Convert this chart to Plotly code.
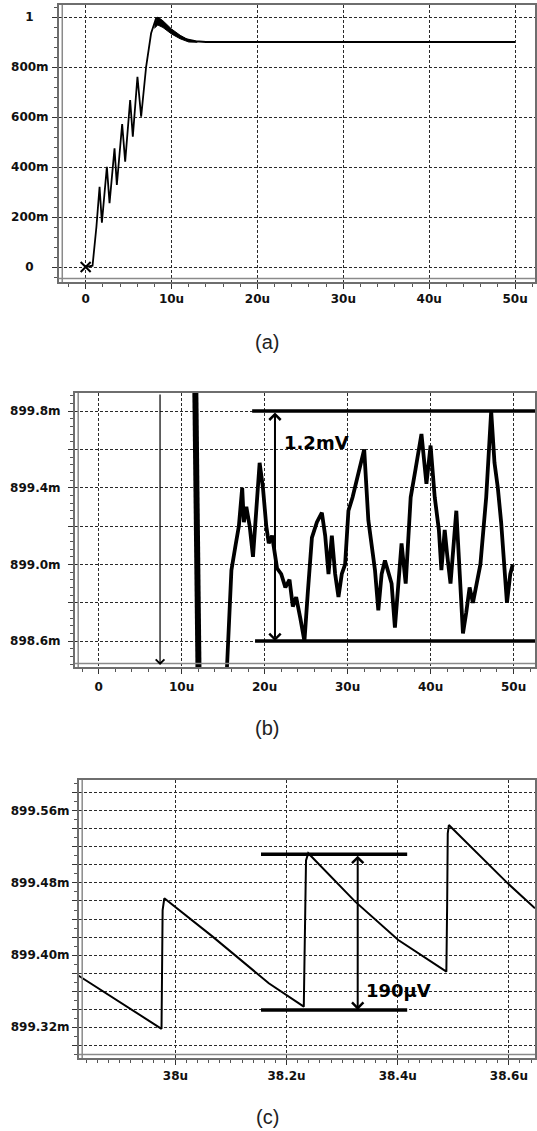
import plotly.graph_objects as go

# ---------------- data: panel (a) ----------------
a_t = [0, 0.8, 1.25, 1.62, 1.89, 2.47, 2.78, 3.36, 3.63, 4.25, 4.6, 5.18, 5.49,
       6.03, 6.46, 7.04, 7.62, 8.2, 8.6, 8.97, 9.5, 10.13, 11.0, 11.68, 12.8, 14.0, 50.0]
a_v = [0, 0.005, 0.16, 0.321, 0.177, 0.401, 0.255, 0.475, 0.328, 0.572, 0.421, 0.668, 0.521,
       0.761, 0.601, 0.801, 0.935, 0.995, 0.99, 0.975, 0.958, 0.941, 0.922, 0.911, 0.903, 0.9, 0.9]
a_ring_t = [8.0, 8.4, 9.0, 10.0, 11.0, 12.0, 13.0]
a_ring_hi = [0.97, 1.0, 0.985, 0.952, 0.927, 0.908, 0.902]
a_ring_lo = [0.955, 0.968, 0.958, 0.932, 0.913, 0.9, 0.899]
a_xticks = [0, 10, 20, 30, 40, 50]
a_xlabels = ["0", "10u", "20u", "30u", "40u", "50u"]
a_yticks = [0, 0.2, 0.4, 0.6, 0.8, 1.0]
# short labels padded so they sit centred like the reference
PAD = "\u2007\u00a0\u2009"
a_ylabels = ["0" + PAD, "200m", "400m", "600m", "800m", "1" + PAD]

# ---------------- data: panel (b) (mV) ----------------
b_drop_t = [11.55, 12.15]
b_drop_v = [900.3, 898.0]
b_t = [15.4, 15.7, 16.0, 16.5, 16.9, 17.3, 17.5, 17.8, 18.2, 18.6, 19.0, 19.4, 19.8, 20.2,
       20.5, 20.9, 21.5, 22.0, 22.5, 23.0, 23.4, 23.8, 24.3, 24.8, 25.2, 25.7, 26.3, 26.9,
       27.3, 27.7, 28.1, 28.5, 28.9, 29.3, 29.7, 30.1, 30.6, 31.0, 31.5, 32.0, 32.5, 32.9,
       33.3, 33.7, 34.1, 34.5, 34.9, 35.3, 35.7, 36.1, 36.5, 37.0, 37.6, 38.2, 38.9, 39.5,
       40.0, 40.5, 41.0, 41.3, 41.7, 42.0, 42.4, 43.1, 43.5, 43.9, 44.3, 44.7, 45.1, 45.6,
       46.0, 46.7, 47.0, 47.3, 47.7, 48.1, 48.5, 48.9, 49.2, 49.6, 49.9]
b_v = [898.4, 898.75, 898.97, 899.1, 899.2, 899.4, 899.22, 899.3, 899.2, 899.04, 899.3, 899.53,
       899.4, 899.2, 899.11, 899.15, 898.98, 898.95, 898.88, 898.92, 898.78, 898.83, 898.72,
       898.6, 898.85, 899.14, 899.22, 899.27, 899.15, 898.95, 899.15, 898.95, 898.83, 898.95,
       899.0, 899.28, 899.35, 899.42, 899.5, 899.6, 899.23, 899.1, 898.97, 898.76, 898.95,
       899.02, 898.95, 898.9, 898.67, 898.9, 899.11, 898.9, 899.35, 899.5, 899.68, 899.42,
       899.62, 899.35, 899.18, 898.97, 899.18, 899.05, 898.9, 899.28, 898.95, 898.64, 898.75,
       898.88, 898.8, 898.9, 899.0, 899.35, 899.6, 899.8, 899.53, 899.4, 899.22, 899.0,
       898.8, 898.95, 899.0]
b_cursor_t = 7.4
b_hi, b_lo = 899.8, 898.6
b_hi_start, b_lo_start = 18.5, 18.85
b_arrow_t = 21.25
b_label = "1.2mV"
b_label_pos = (26.3, 899.638)
b_xticks = [0, 10, 20, 30, 40, 50]
b_xlabels = ["0", "10u", "20u", "30u", "40u", "50u"]
b_yticks = [898.6, 898.8, 899.0, 899.2, 899.4, 899.6, 899.8]
b_ylabels = ["898.6m", "", "899.0m", "", "899.4m", "", "899.8m"]

# ---------------- data: panel (c) (mV) ----------------
c_t = [37.826, 37.975, 37.977, 37.98, 38.067, 38.168, 38.231, 38.233, 38.235, 38.239,
       38.3235, 38.401, 38.4875, 38.489, 38.490, 38.492, 38.598, 38.647]
c_v = [899.377, 899.318, 899.45, 899.463, 899.4204, 899.3686, 899.3426, 899.42, 899.505, 899.513,
       899.4593, 899.4167, 899.3815, 899.46, 899.535, 899.5444, 899.4796, 899.4519]
c_hi, c_lo = 899.512, 899.339
c_mark_start, c_mark_end = 38.154, 38.417
c_arrow_t = 38.328
c_label = "190μV"
c_label_pos = (38.401, 899.361)
c_xticks = [38.0, 38.2, 38.4, 38.6]
c_xlabels = ["38u", "38.2u", "38.4u", "38.6u"]
c_yticks = [899.30, 899.32, 899.34, 899.36, 899.38, 899.40, 899.42, 899.44, 899.46,
            899.48, 899.50, 899.52, 899.54, 899.56, 899.58]
c_ylabels = ["", "899.32m", "", "", "", "899.40m", "", "", "", "899.48m", "", "", "",
             "899.56m", ""]

captions = ["(a)", "(b)", "(c)"]

# ---------------- layout geometry (pixels) ----------------
W, H = 537, 1131
panels = {
    # left, right, top, bottom in px ; x range ; y range ; label standoffs (x, y)
    "a": dict(px=(59, 537, 5, 282), xr=(-3.13, 52.32), yr=(-0.06, 1.048), so=(0, 1)),
    "b": dict(px=(75, 537, 393, 667), xr=(-2.88, 52.58), yr=(898.465, 899.894), so=(3, 5)),
    "c": dict(px=(79, 537, 780, 1058), xr=(37.826, 38.647), yr=(899.2856, 899.5944), so=(1, 0)),
}

TICKFONT = dict(family="DejaVu Sans", size=12, color="#111", weight="bold")
GRID = dict(showgrid=True, gridcolor="#2a2a2a", gridwidth=1, griddash="3px,2px")

fig = go.Figure()

def axis_common(domain, rng, tickvals, ticktext, minor_dtick, minor_tick0, standoff):
    return dict(domain=domain, range=list(rng), tickvals=tickvals, ticktext=ticktext,
                ticks="outside", ticklen=5, tickcolor="#333", tickwidth=1,
                showline=True, linecolor="#6e6e6e", linewidth=1.5, mirror=True,
                tickfont=TICKFONT, ticklabelstandoff=standoff, zeroline=False,
                minor=dict(ticks="outside", ticklen=3, tickcolor="#555",
                           dtick=minor_dtick, tick0=minor_tick0, showgrid=False),
                fixedrange=True, **GRID)

layout = dict(width=W, height=H, margin=dict(l=0, r=0, t=0, b=0),
              paper_bgcolor="white", plot_bgcolor="white", showlegend=False)

spec = {
    "a": (a_xticks, a_xlabels, 2, 0, a_yticks, a_ylabels, 0.04, 0),
    "b": (b_xticks, b_xlabels, 2, 0, b_yticks, b_ylabels, 0.04, 898.6),
    "c": (c_xticks, c_xlabels, 0.02, 38.0, c_yticks, c_ylabels, 0.01, 899.30),
}
shapes = []
for i, key in enumerate(["a", "b", "c"], start=1):
    l, r, t, b = panels[key]["px"]
    xso, yso = panels[key]["so"]
    xd = [l / W, r / W]
    yd = [1 - b / H, 1 - t / H]
    xt, xl, xmd, xm0, yt, yl, ymd, ym0 = spec[key]
    sfx = "" if i == 1 else str(i)
    layout["xaxis" + sfx] = axis_common(xd, panels[key]["xr"], xt, xl, xmd, xm0, xso)
    layout["xaxis" + sfx]["anchor"] = "y" + sfx
    layout["yaxis" + sfx] = axis_common(yd, panels[key]["yr"], yt, yl, ymd, ym0, yso)
    layout["yaxis" + sfx]["anchor"] = "x" + sfx
    # inner frame lines (double-line look)
    wpx, hpx = r - l, b - t
    shapes.append(dict(type="line", xref=f"x{sfx} domain", yref=f"y{sfx} domain",
                       x0=3.5 / wpx, x1=3.5 / wpx, y0=0, y1=1,
                       line=dict(color="#8a8a8a", width=1.5)))
    shapes.append(dict(type="line", xref=f"x{sfx} domain", yref=f"y{sfx} domain",
                       x0=0, x1=1, y0=3.5 / hpx, y1=3.5 / hpx,
                       line=dict(color="#8a8a8a", width=1.5)))

# ---- panel (a) traces ----
fig.add_trace(go.Scatter(x=a_ring_t, y=a_ring_lo, mode="lines", line=dict(color="black", width=1),
                         xaxis="x", yaxis="y", hoverinfo="skip"))
fig.add_trace(go.Scatter(x=a_ring_t, y=a_ring_hi, mode="lines", fill="tonexty",
                         fillcolor="black", line=dict(color="black", width=1),
                         xaxis="x", yaxis="y", hoverinfo="skip"))
fig.add_trace(go.Scatter(x=a_t, y=a_v, mode="lines", line=dict(color="black", width=1.8),
                         xaxis="x", yaxis="y"))
fig.add_trace(go.Scatter(x=[a_t[0]], y=[a_v[0]], mode="markers",
                         marker=dict(symbol="x-thin", size=10, line=dict(color="black", width=2)),
                         xaxis="x", yaxis="y"))

# ---- panel (b) traces ----
fig.add_trace(go.Scatter(x=b_drop_t, y=b_drop_v, mode="lines", line=dict(color="black", width=6),
                         xaxis="x2", yaxis="y2"))
fig.add_trace(go.Scatter(x=b_t, y=b_v, mode="lines", line=dict(color="black", width=3.8),
                         xaxis="x2", yaxis="y2"))

# ---- panel (c) traces ----
fig.add_trace(go.Scatter(x=c_t, y=c_v, mode="lines", line=dict(color="black", width=2),
                         xaxis="x3", yaxis="y3"))

# ---- marker lines ----
bxr = panels["b"]["xr"]
byr = panels["b"]["yr"]
shapes += [
    dict(type="line", xref="x2", yref="y2", x0=b_hi_start, x1=bxr[1], y0=b_hi, y1=b_hi,
         line=dict(color="black", width=3.5)),
    dict(type="line", xref="x2", yref="y2", x0=b_lo_start, x1=bxr[1], y0=b_lo, y1=b_lo,
         line=dict(color="black", width=3.5)),
    dict(type="line", xref="x3", yref="y3", x0=c_mark_start, x1=c_mark_end, y0=c_hi, y1=c_hi,
         line=dict(color="black", width=3.5)),
    dict(type="line", xref="x3", yref="y3", x0=c_mark_start, x1=c_mark_end, y0=c_lo, y1=c_lo,
         line=dict(color="black", width=3.5)),
]
layout["shapes"] = shapes

annotations = [
    # cursor in (b)
    dict(x=b_cursor_t, y=byr[0] + 0.01, ax=b_cursor_t, ay=byr[1], xref="x2", yref="y2",
         axref="x2", ayref="y2", showarrow=True, arrowhead=4, arrowsize=1.4, arrowwidth=1.2,
         arrowcolor="black", text=""),
    # double arrow (b)
    dict(x=b_arrow_t, y=b_lo, ax=b_arrow_t, ay=b_hi, xref="x2", yref="y2",
         axref="x2", ayref="y2", showarrow=True, arrowhead=4, startarrowhead=4,
         arrowside="end+start", arrowsize=1.1, startarrowsize=1.1, arrowwidth=2,
         arrowcolor="black", text=""),
    dict(x=b_label_pos[0], y=b_label_pos[1], xref="x2", yref="y2", text=b_label, showarrow=False,
         font=dict(family="DejaVu Sans", size=18, color="black", weight="bold")),
    # double arrow (c)
    dict(x=c_arrow_t, y=c_lo, ax=c_arrow_t, ay=c_hi, xref="x3", yref="y3",
         axref="x3", ayref="y3", showarrow=True, arrowhead=4, startarrowhead=4,
         arrowside="end+start", arrowsize=1.1, startarrowsize=1.1, arrowwidth=2,
         arrowcolor="black", text=""),
    dict(x=c_label_pos[0], y=c_label_pos[1], xref="x3", yref="y3", text=c_label, showarrow=False,
         font=dict(family="DejaVu Sans", size=18, color="black", weight="bold")),
]
for cap, ypx in zip(captions, [342, 728, 1117]):
    annotations.append(dict(x=268 / W, y=1 - ypx / H, xref="paper", yref="paper", text=cap,
                            showarrow=False, xanchor="center", yanchor="middle",
                            font=dict(family="Liberation Sans", size=20, color="#222")))
layout["annotations"] = annotations

fig.update_layout(**layout)
fig.write_html("out.html", config={"displayModeBar": False},
               post_script="document.body.style.margin='0';document.body.style.overflow='hidden';")
